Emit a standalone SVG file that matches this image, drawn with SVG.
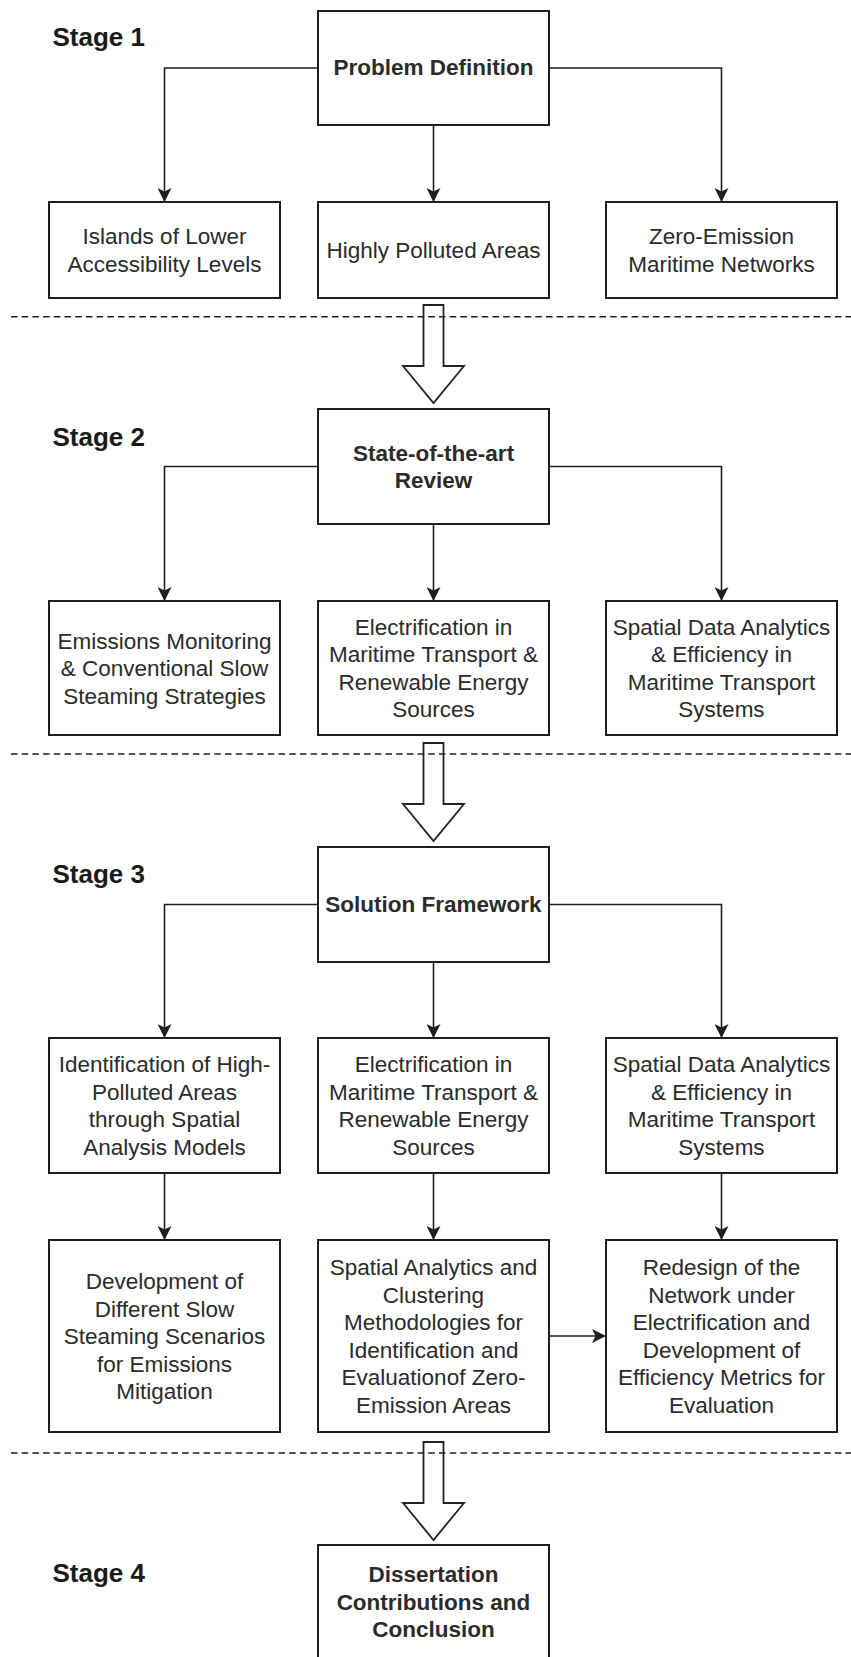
<svg xmlns="http://www.w3.org/2000/svg" width="851" height="1657" viewBox="0 0 851 1657">
  <style>
    .box { fill: #ffffff; stroke: #1f1f1f; stroke-width: 2; }
    .lbl { font-family: "Liberation Sans", Arial, sans-serif; font-size: 22.5px; fill: #2b2b2b; text-anchor: middle; }
    .bold { font-weight: bold; }
    .stage { font-family: "Liberation Sans", Arial, sans-serif; font-size: 26px; font-weight: bold; fill: #1a1a1a; }
    .conn { fill: none; stroke: #1f1f1f; stroke-width: 1.6; marker-end: url(#arrow); }
    .block { fill: #ffffff; stroke: #222222; stroke-width: 1.8; stroke-linejoin: miter; }
    .sep { stroke: #1f1f1f; stroke-width: 1.6; stroke-dasharray: 6.5 4.2; }
  </style>
  <defs>
    <marker id="arrow" viewBox="0 0 14 14" refX="14" refY="7" markerWidth="14" markerHeight="14" markerUnits="userSpaceOnUse" orient="auto">
      <path d="M0,0 L14,7 L0,14 L3.5,7 Z" fill="#1f1f1f"/>
    </marker>
  </defs>
  <rect width="851" height="1657" fill="#ffffff"/>

  <!-- stage headings -->
  <g id="stage-labels">
    <text class="stage" x="52.5" y="46">Stage 1</text>
    <text class="stage" x="52.5" y="446">Stage 2</text>
    <text class="stage" x="52.5" y="883">Stage 3</text>
    <text class="stage" x="52.5" y="1582">Stage 4</text>
  </g>

  <!-- connectors -->
  <g id="connectors">
    <path class="conn" d="M318,68 H164.5 V202"/>
    <path class="conn" d="M433.5,125 V202"/>
    <path class="conn" d="M549,68 H721.5 V202"/>
    <path class="conn" d="M318,466.5 H164.5 V601"/>
    <path class="conn" d="M433.5,524 V601"/>
    <path class="conn" d="M549,466.5 H721.5 V601"/>
    <path class="conn" d="M318,904.5 H164.5 V1038"/>
    <path class="conn" d="M433.5,962 V1038"/>
    <path class="conn" d="M549,904.5 H721.5 V1038"/>
    <path class="conn" d="M164.5,1173 V1240"/>
    <path class="conn" d="M433.5,1173 V1240"/>
    <path class="conn" d="M721.5,1173 V1240"/>
    <path class="conn" d="M549,1336 H606"/>
    <!-- hollow block arrows between stages -->
    <polygon class="block" points="423.5,305 443.5,305 443.5,366 464,366 433.5,403 403,366 423.5,366"/>
    <polygon class="block" points="423.5,743 443.5,743 443.5,804 464,804 433.5,841 403,804 423.5,804"/>
    <polygon class="block" points="423.5,1442 443.5,1442 443.5,1503 464,1503 433.5,1540 403,1503 423.5,1503"/>
  </g>

  <!-- stage separators -->
  <g id="separators">
    <line class="sep" x1="11" y1="316.7" x2="851" y2="316.7"/>
    <line class="sep" x1="11" y1="754" x2="851" y2="754"/>
    <line class="sep" x1="11" y1="1453" x2="851" y2="1453"/>
  </g>

  <!-- Stage 1 -->
  <g id="problem-definition">
    <rect class="box" x="318" y="11" width="231" height="114"/>
    <text class="lbl bold" x="433.5" y="75">Problem Definition</text>
  </g>
  <g id="islands-lower-accessibility">
    <rect class="box" x="49" y="202" width="231" height="96"/>
    <text class="lbl" x="164.5"><tspan x="164.5" y="244.25">Islands of Lower</tspan><tspan x="164.5" y="271.75">Accessibility Levels</tspan></text>
  </g>
  <g id="highly-polluted-areas">
    <rect class="box" x="318" y="202" width="231" height="96"/>
    <text class="lbl" x="433.5" y="258">Highly Polluted Areas</text>
  </g>
  <g id="zero-emission-networks">
    <rect class="box" x="606" y="202" width="231" height="96"/>
    <text class="lbl" x="721.5"><tspan x="721.5" y="244.25">Zero-Emission</tspan><tspan x="721.5" y="271.75">Maritime Networks</tspan></text>
  </g>

  <!-- Stage 2 -->
  <g id="state-of-the-art-review">
    <rect class="box" x="318" y="409" width="231" height="115"/>
    <text class="lbl bold" x="433.5"><tspan x="433.5" y="460.75">State-of-the-art</tspan><tspan x="433.5" y="488.25">Review</tspan></text>
  </g>
  <g id="emissions-monitoring">
    <rect class="box" x="49" y="601" width="231" height="134"/>
    <text class="lbl" x="164.5"><tspan x="164.5" y="648.5">Emissions Monitoring</tspan><tspan x="164.5" y="676">&amp; Conventional Slow</tspan><tspan x="164.5" y="703.5">Steaming Strategies</tspan></text>
  </g>
  <g id="electrification-review">
    <rect class="box" x="318" y="601" width="231" height="134"/>
    <text class="lbl" x="433.5"><tspan x="433.5" y="634.75">Electrification in</tspan><tspan x="433.5" y="662.25">Maritime Transport &amp;</tspan><tspan x="433.5" y="689.75">Renewable Energy</tspan><tspan x="433.5" y="717.25">Sources</tspan></text>
  </g>
  <g id="spatial-analytics-review">
    <rect class="box" x="606" y="601" width="231" height="134"/>
    <text class="lbl" x="721.5"><tspan x="721.5" y="634.75">Spatial Data Analytics</tspan><tspan x="721.5" y="662.25">&amp; Efficiency in</tspan><tspan x="721.5" y="689.75">Maritime Transport</tspan><tspan x="721.5" y="717.25">Systems</tspan></text>
  </g>

  <!-- Stage 3 -->
  <g id="solution-framework">
    <rect class="box" x="318" y="847" width="231" height="115"/>
    <text class="lbl bold" x="433.5" y="912">Solution Framework</text>
  </g>
  <g id="identification-high-polluted">
    <rect class="box" x="49" y="1038" width="231" height="135"/>
    <text class="lbl" x="164.5"><tspan x="164.5" y="1072.25">Identification of High-</tspan><tspan x="164.5" y="1099.75">Polluted Areas</tspan><tspan x="164.5" y="1127.25">through Spatial</tspan><tspan x="164.5" y="1154.75">Analysis Models</tspan></text>
  </g>
  <g id="electrification-framework">
    <rect class="box" x="318" y="1038" width="231" height="135"/>
    <text class="lbl" x="433.5"><tspan x="433.5" y="1072.25">Electrification in</tspan><tspan x="433.5" y="1099.75">Maritime Transport &amp;</tspan><tspan x="433.5" y="1127.25">Renewable Energy</tspan><tspan x="433.5" y="1154.75">Sources</tspan></text>
  </g>
  <g id="spatial-analytics-framework">
    <rect class="box" x="606" y="1038" width="231" height="135"/>
    <text class="lbl" x="721.5"><tspan x="721.5" y="1072.25">Spatial Data Analytics</tspan><tspan x="721.5" y="1099.75">&amp; Efficiency in</tspan><tspan x="721.5" y="1127.25">Maritime Transport</tspan><tspan x="721.5" y="1154.75">Systems</tspan></text>
  </g>
  <g id="slow-steaming-scenarios">
    <rect class="box" x="49" y="1240" width="231" height="192"/>
    <text class="lbl" x="164.5"><tspan x="164.5" y="1289">Development of</tspan><tspan x="164.5" y="1316.5">Different Slow</tspan><tspan x="164.5" y="1344">Steaming Scenarios</tspan><tspan x="164.5" y="1371.5">for Emissions</tspan><tspan x="164.5" y="1399">Mitigation</tspan></text>
  </g>
  <g id="clustering-methodologies">
    <rect class="box" x="318" y="1240" width="231" height="192"/>
    <text class="lbl" x="433.5"><tspan x="433.5" y="1275.25">Spatial Analytics and</tspan><tspan x="433.5" y="1302.75">Clustering</tspan><tspan x="433.5" y="1330.25">Methodologies for</tspan><tspan x="433.5" y="1357.75">Identification and</tspan><tspan x="433.5" y="1385.25">Evaluationof Zero-</tspan><tspan x="433.5" y="1412.75">Emission Areas</tspan></text>
  </g>
  <g id="network-redesign">
    <rect class="box" x="606" y="1240" width="231" height="192"/>
    <text class="lbl" x="721.5"><tspan x="721.5" y="1275.25">Redesign of the</tspan><tspan x="721.5" y="1302.75">Network under</tspan><tspan x="721.5" y="1330.25">Electrification and</tspan><tspan x="721.5" y="1357.75">Development of</tspan><tspan x="721.5" y="1385.25">Efficiency Metrics for</tspan><tspan x="721.5" y="1412.75">Evaluation</tspan></text>
  </g>

  <!-- Stage 4 -->
  <g id="dissertation-conclusion">
    <rect class="box" x="318" y="1545" width="231" height="114"/>
    <text class="lbl bold" x="433.5"><tspan x="433.5" y="1582">Dissertation</tspan><tspan x="433.5" y="1609.5">Contributions and</tspan><tspan x="433.5" y="1637">Conclusion</tspan></text>
  </g>
</svg>
